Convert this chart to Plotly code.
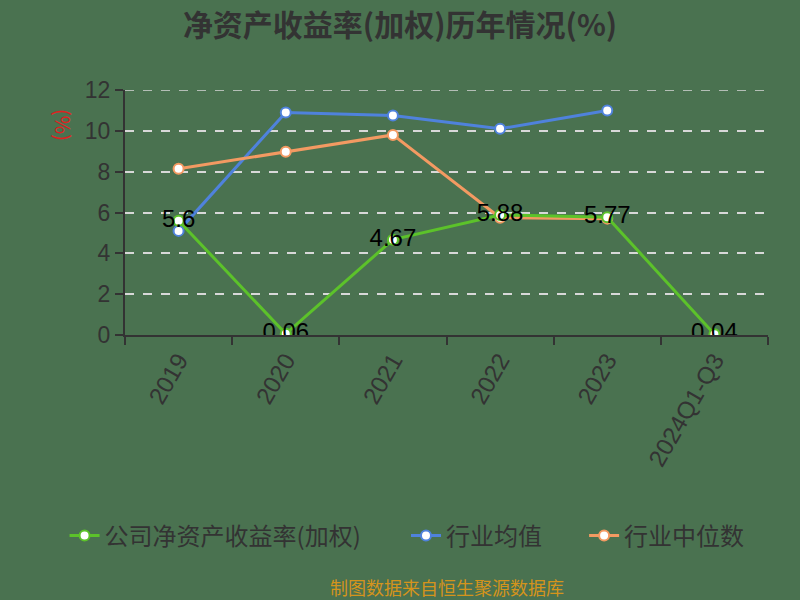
import plotly.graph_objects as go

categories = ["2019", "2020", "2021", "2022", "2023", "2024Q1-Q3"]
company = [5.6, 0.06, 4.67, 5.88, 5.77, 0.04]
ind_mean = [5.1, 10.9, 10.75, 10.1, 11.0, None]
ind_median = [8.14, 8.97, 9.8, 5.74, 5.7, None]
company_labels = ["5.6", "0.06", "4.67", "5.88", "5.77", "0.04"]
y_ticks = [0, 2, 4, 6, 8, 10, 12]

BG = "#4a7250"
GREEN = "#5cc22a"
BLUE = "#4f82dc"
ORANGE = "#f39a62"
FONT = "Noto Sans CJK SC"

fig = go.Figure()
fig.add_trace(go.Scatter(
    x=categories, y=ind_mean, name="行业均值", mode="lines+markers", legend="legend2",
    line=dict(color=BLUE, width=3),
    marker=dict(size=10, color="white", line=dict(color=BLUE, width=2)),
))
fig.add_trace(go.Scatter(
    x=categories, y=ind_median, name="行业中位数", mode="lines+markers", legend="legend3",
    line=dict(color=ORANGE, width=3),
    marker=dict(size=10, color="white", line=dict(color=ORANGE, width=2)),
))
fig.add_trace(go.Scatter(
    x=categories, y=company, name="公司净资产收益率(加权)", legend="legend",
    mode="lines+markers+text", text=company_labels, textposition="middle center",
    textfont=dict(size=24, color="#000000", family="Liberation Sans"),
    line=dict(color=GREEN, width=3),
    marker=dict(size=10, color="white", line=dict(color=GREEN, width=2)),
))

legend_common = dict(orientation="h", xanchor="left", y=-0.82, yanchor="middle",
                     font=dict(size=24, color="#333333", family=FONT),
                     bgcolor="rgba(0,0,0,0)")
fig.update_layout(
    width=800, height=600,
    paper_bgcolor=BG, plot_bgcolor=BG,
    margin=dict(l=125, r=32, t=90, b=265),
    font=dict(family=FONT, color="#333333"),
    title=dict(text="<b>净资产收益率(加权)历年情况(%)</b>", x=0.5, xanchor="center",
               y=0.958, yanchor="middle", font=dict(size=30, color="#333333", family=FONT)),
    showlegend=True,
    legend=dict(x=-0.094, **legend_common),
    legend2=dict(x=0.437, **legend_common),
    legend3=dict(x=0.714, **legend_common),
)
fig.update_xaxes(
    type="category", range=[-0.5, 5.5], categoryorder="array", categoryarray=categories,
    showline=True, linecolor="#333333", linewidth=2,
    ticks="outside", tickson="boundaries", ticklen=8, tickcolor="#333333", tickwidth=2,
    tickangle=-60, tickfont=dict(size=24, color="#333333", family="Liberation Sans"),
    showgrid=False, zeroline=False,
)
fig.update_yaxes(
    range=[0, 12], tickvals=y_ticks,
    showline=True, linecolor="#333333", linewidth=2,
    ticks="outside", ticklen=8, tickcolor="#333333", tickwidth=2,
    tickfont=dict(size=23, color="#333333", family="Liberation Sans"),
    showgrid=True, gridcolor="#d8d8d8", griddash="dash", gridwidth=1.5, zeroline=False,
)
# top gridline (plotly omits gridlines on the plot edge)
fig.add_shape(type="line", xref="paper", yref="y", x0=0, x1=1, y0=y_ticks[-1], y1=y_ticks[-1],
              line=dict(color="#d8d8d8", width=1.5, dash="dash"), layer="below")
fig.add_annotation(text="(%)", xref="paper", yref="paper", x=-0.096, y=0.856,
                   xanchor="center", yanchor="middle",
                   showarrow=False, textangle=90,
                   font=dict(size=20, color="#e02020", family=FONT))
fig.add_annotation(text="制图数据来自恒生聚源数据库", xref="paper", yref="paper",
                   x=0.5, y=-1.03, xanchor="center", yanchor="middle", showarrow=False,
                   font=dict(size=18, color="#d4941c", family=FONT))

fig.write_html("out.html", config={"displayModeBar": False},
               post_script="document.body.style.margin='0';")
